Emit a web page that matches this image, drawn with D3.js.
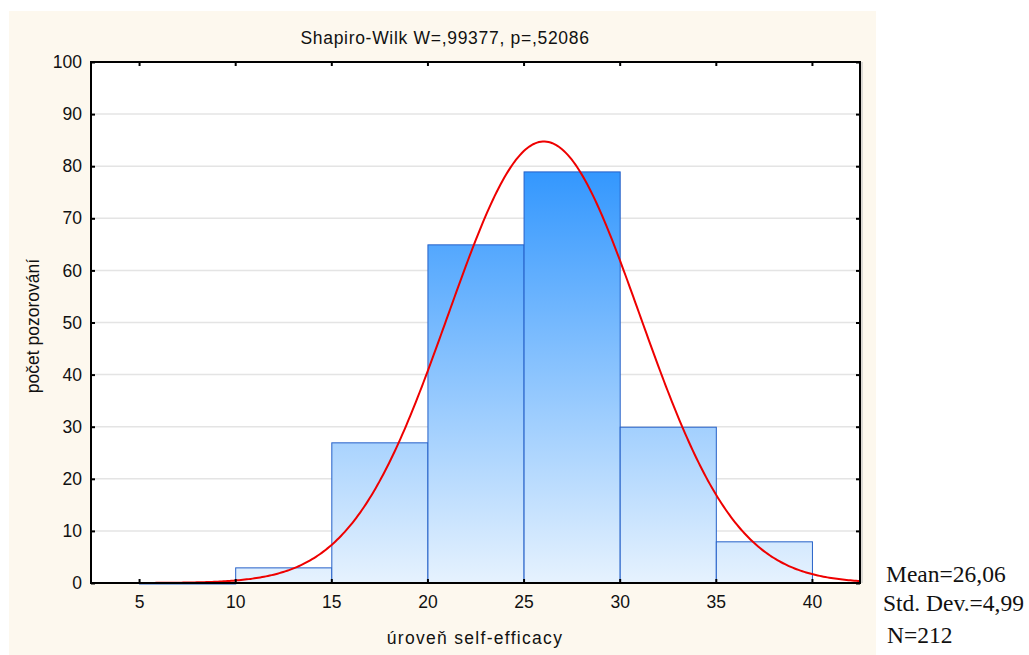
<!DOCTYPE html>
<html>
<head>
<meta charset="utf-8">
<script src="https://cdn.jsdelivr.net/npm/d3@7"></script>
<style>
  body { margin: 0; background: #fff; }
  svg { display: block; }
</style>
</head>
<body>
<div id="chart"></div>
<script>
// histogram bins (lower edge) and counts
const binStarts = [5, 10, 15, 20, 25, 30, 35];
const binWidth = 5;
const counts = [0, 3, 27, 65, 79, 30, 8];
const xTicks = [5, 10, 15, 20, 25, 30, 35, 40];
const yTicks = [0, 10, 20, 30, 40, 50, 60, 70, 80, 90, 100];
const stats = { mean: 26.06, sd: 4.99, n: 212 };
const statLines = ["Mean=26,06", "Std. Dev.=4,99", "N=212"];
const title = "Shapiro-Wilk W=,99377, p=,52086";

let config = {
    width: 1029, height: 655,
    left: 91, right: 860, top: 62, bottom: 583
};

const svg = d3.select("#chart").append("svg")
    .attr("width", config.width)
    .attr("height", config.height)
    .style("font-family", "'Liberation Sans', Arial, sans-serif");

// cream panel
svg.append("rect")
    .attr("x", 9).attr("y", 11)
    .attr("width", 867).attr("height", 644)
    .attr("fill", "#fdf8ee");

let x = d3.scaleLinear().domain([2.5, 42.5]).range([config.left, config.right]);
let y = d3.scaleLinear().domain([0, 100]).range([config.bottom, config.top]);

// gradient for bars, tied to the plot scale
let defs = svg.append("defs");
let grad = defs.append("linearGradient")
    .attr("id", "barGrad")
    .attr("gradientUnits", "userSpaceOnUse")
    .attr("x1", 0).attr("x2", 0)
    .attr("y1", y(80)).attr("y2", y(0));
grad.append("stop").attr("offset", "0%").attr("stop-color", "#3196fe");
grad.append("stop").attr("offset", "100%").attr("stop-color", "#e6f2fe");

// plot background
svg.append("rect")
    .attr("x", config.left).attr("y", config.top)
    .attr("width", config.right - config.left)
    .attr("height", config.bottom - config.top)
    .attr("fill", "#fff");

// grid lines
svg.append("g")
    .selectAll("line")
    .data(yTicks.filter(d => d > 0 && d < 100))
    .join("line")
    .attr("x1", config.left).attr("x2", config.right)
    .attr("y1", d => y(d)).attr("y2", d => y(d))
    .attr("stroke", "#e4e4e4")
    .attr("stroke-width", 1.5);

// bars
svg.append("g")
    .selectAll("rect")
    .data(binStarts.map((s, i) => ({ s: s, v: counts[i] })))
    .join("rect")
    .attr("x", d => x(d.s) + 0.5)
    .attr("y", d => y(d.v) + 0.5)
    .attr("width", d => x(d.s + binWidth) - x(d.s))
    .attr("height", d => Math.max(y(0) - y(d.v), 0.5))
    .attr("fill", "url(#barGrad)")
    .attr("stroke", "#2560c8")
    .attr("stroke-width", 1);

// normal curve from the reported stats
let norm = v => stats.n * binWidth / (stats.sd * Math.sqrt(2 * Math.PI)) *
    Math.exp(-0.5 * Math.pow((v - stats.mean) / stats.sd, 2));
let curvePts = d3.range(2.5, 42.51, 0.1);
svg.append("path")
    .datum(curvePts)
    .attr("fill", "none")
    .attr("stroke", "#ee0000")
    .attr("stroke-width", 2)
    .attr("d", d3.line().x(d => x(d)).y(d => y(norm(d))));

// shadow line right of frame
svg.append("line")
    .attr("x1", config.right + 2).attr("x2", config.right + 2)
    .attr("y1", config.top).attr("y2", config.bottom)
    .attr("stroke", "#bbb").attr("stroke-width", 1);

// frame
svg.append("rect")
    .attr("x", config.left).attr("y", config.top)
    .attr("width", config.right - config.left)
    .attr("height", config.bottom - config.top)
    .attr("fill", "none")
    .attr("stroke", "#000")
    .attr("stroke-width", 2);

// axes with inward ticks
let fmt = d => d;
svg.append("g")
    .attr("transform", `translate(0,${config.bottom})`)
    .call(d3.axisBottom(x).tickValues(xTicks).tickSize(-4).tickPadding(13).tickFormat(fmt))
    .call(g => g.select(".domain").remove());
svg.append("g")
    .attr("transform", `translate(0,${config.top})`)
    .call(d3.axisTop(x).tickValues(xTicks).tickSize(-4).tickFormat(""))
    .call(g => g.select(".domain").remove());
svg.append("g")
    .attr("transform", `translate(${config.left},0)`)
    .call(d3.axisLeft(y).tickValues(yTicks).tickSize(-4).tickPadding(9).tickFormat(fmt))
    .call(g => g.select(".domain").remove());
svg.append("g")
    .attr("transform", `translate(${config.right},0)`)
    .call(d3.axisRight(y).tickValues(yTicks).tickSize(-4).tickFormat(""))
    .call(g => g.select(".domain").remove());

svg.selectAll(".tick line").attr("stroke", "#000").attr("stroke-width", 2);
svg.selectAll(".tick text")
    .attr("fill", "#111")
    .style("font-family", "'Liberation Sans', Arial, sans-serif")
    .style("font-size", "17.5px");

// title and labels
svg.append("text")
    .attr("x", 445).attr("y", 44)
    .attr("text-anchor", "middle")
    .attr("font-size", 17.5)
    .attr("letter-spacing", 0.7)
    .attr("fill", "#111")
    .text(title);

svg.append("text")
    .attr("x", 475).attr("y", 644)
    .attr("text-anchor", "middle")
    .attr("font-size", 17.5)
    .attr("letter-spacing", 1.3)
    .attr("fill", "#111")
    .text("úroveň self-efficacy");

svg.append("text")
    .attr("transform", "translate(39,326) rotate(-90)")
    .attr("text-anchor", "middle")
    .attr("font-size", 17.5)
    .attr("fill", "#111")
    .text("počet pozorování");

// stats box
svg.append("g")
    .selectAll("text")
    .data(statLines)
    .join("text")
    .attr("x", (d, i) => [886, 883, 887][i])
    .attr("y", (d, i) => [582, 611, 643][i])
    .attr("font-family", "'Liberation Serif', 'Times New Roman', serif")
    .attr("font-size", 23.5)
    .attr("fill", "#111")
    .text(d => d);
</script>
</body>
</html>
